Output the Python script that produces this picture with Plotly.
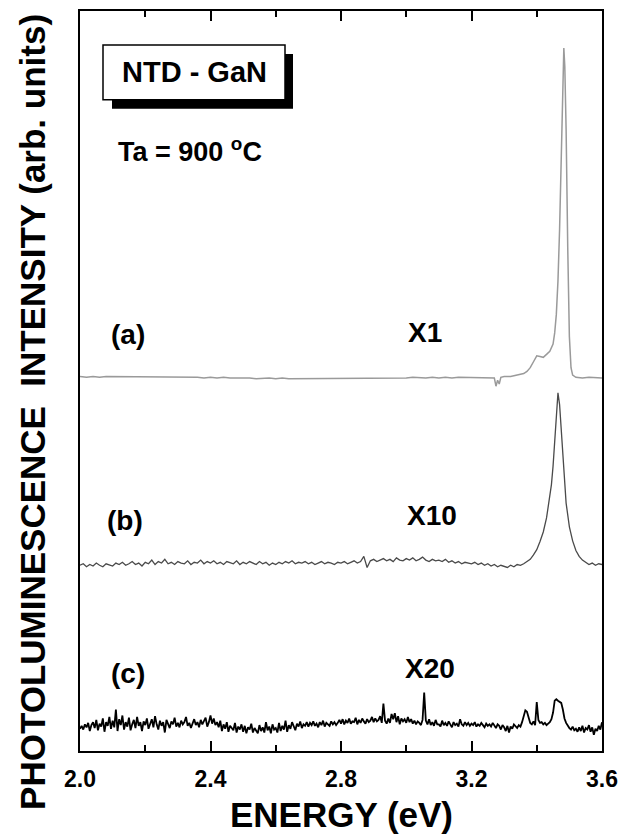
import plotly.graph_objects as go

# ---------------- data ----------------
# (c) X20 : regular grid 2.000 .. 3.600 eV, step 0.005
energy_c_start, energy_c_step = 2.0, 0.005
intensity_c = [
    3.0,3.4,2.9,3.6,3.2,3.8,2.7,3.5,3.9,3.1,4.2,2.8,3.7,3.3,4.4,2.6,3.9,3.4,4.6,3.0,
    4.1,3.2,5.6,2.7,4.3,3.5,4.8,2.9,3.9,3.3,4.5,2.8,3.6,4.2,3.1,4.6,3.4,3.9,2.7,4.0,
    3.5,4.4,3.0,3.8,4.3,3.2,4.7,3.6,2.9,4.1,3.4,3.9,2.5,4.2,3.7,3.1,4.0,3.6,4.5,3.3,
    3.8,3.2,4.1,3.6,3.9,4.6,3.4,3.8,3.1,3.7,4.3,3.5,3.9,3.2,4.2,3.6,4.0,4.5,3.3,3.9,
    4.8,3.7,4.4,3.5,3.9,3.2,4.1,2.7,3.6,3.0,3.9,2.6,3.4,3.1,2.8,3.8,2.5,3.3,2.9,3.6,
    2.6,3.4,2.4,3.2,2.9,3.7,2.5,3.1,2.8,2.4,3.5,2.7,3.2,2.5,3.9,2.8,3.3,2.4,3.6,2.9,
    3.1,2.5,3.8,2.7,3.4,2.9,4.1,2.6,3.5,3.0,3.9,3.2,2.8,3.7,3.3,4.0,3.1,3.6,3.4,3.9,
    3.3,3.8,3.5,4.0,3.4,3.7,3.2,3.9,3.5,4.1,3.3,3.8,3.6,3.4,4.0,3.6,3.9,3.5,3.8,4.2,
    3.7,4.3,3.6,4.1,3.8,4.4,3.7,4.0,3.9,4.5,3.6,4.2,3.8,4.4,4.0,3.7,4.3,3.9,4.1,4.6,
    3.9,4.4,4.0,4.2,4.7,3.8,6.4,4.1,3.7,4.4,3.8,5.0,4.3,5.1,3.9,4.7,3.6,4.4,4.0,4.3,
    3.8,4.6,3.9,4.3,3.7,4.1,3.6,4.0,3.8,3.5,4.2,7.9,4.1,3.6,4.3,3.5,3.9,3.4,4.2,3.6,
    3.6,3.3,4.1,3.5,3.8,3.4,4.0,3.6,3.2,3.9,3.5,3.7,3.3,4.3,3.6,3.4,3.9,3.5,3.8,3.4,
    3.7,3.5,3.9,3.3,3.6,3.4,3.8,3.5,3.2,3.7,3.4,3.6,3.3,3.8,3.5,3.1,3.6,3.4,2.9,3.5,
    3.2,2.7,3.4,2.5,3.3,3.0,3.6,3.4,3.1,3.5,3.3,3.9,4.8,5.5,5.3,4.4,3.8,3.6,4.0,3.5,
    6.6,4.2,3.8,3.9,3.6,3.8,3.5,3.7,3.9,4.3,5.2,6.8,7.0,6.8,6.6,6.5,5.6,4.4,3.8,3.4,
    3.1,2.9,3.3,2.8,3.0,2.6,3.2,2.7,3.4,2.5,3.1,2.9,3.5,2.6,3.2,2.2,3.0,2.7,3.4,2.9,
    3.9,
]
energy_c = [round(energy_c_start + energy_c_step * i, 3) for i in range(len(intensity_c))]

# (b) X10
energy_b = [round(2.0 + 0.01 * i, 2) for i in range(136)] + [
    3.36, 3.37, 3.38, 3.39, 3.40, 3.41, 3.42, 3.43, 3.44, 3.445, 3.45, 3.455, 3.46,
    3.465, 3.47, 3.475, 3.48, 3.485, 3.49, 3.50, 3.51, 3.52, 3.53, 3.54, 3.55, 3.56,
    3.57, 3.58, 3.59, 3.60]
intensity_b = [
    25.1,25.3,24.9,25.2,25.0,25.4,25.1,24.9,25.3,25.2,
    25.0,25.4,25.2,25.5,25.1,25.3,25.6,25.2,25.4,25.0,
    25.5,25.3,25.8,25.2,25.6,25.4,25.9,25.3,25.5,25.2,
    25.6,25.4,25.3,25.7,25.2,25.5,25.4,25.8,25.3,25.6,
    25.4,25.7,25.3,25.5,25.2,25.6,25.4,25.3,25.7,25.2,
    25.5,25.3,25.6,25.4,25.2,25.6,25.3,25.5,25.1,25.4,
    25.2,25.5,25.3,25.6,25.4,25.7,25.3,25.5,25.4,25.6,
    25.3,25.5,25.2,25.4,25.6,25.3,25.5,25.4,25.2,25.5,
    25.4,25.6,25.3,25.5,25.7,25.4,25.6,26.3,24.8,25.7,
    25.9,25.6,25.8,26.0,25.7,25.9,25.6,26.1,25.8,25.7,
    26.0,25.8,26.1,25.7,25.9,26.2,25.8,25.6,25.9,25.7,
    25.8,25.6,25.9,25.5,25.7,25.4,25.6,25.3,25.5,25.4,
    25.3,25.5,25.2,25.4,25.1,25.3,25.0,25.2,24.9,25.1,
    25.0,24.8,25.1,24.9,25.2,25.1,
    25.3,25.6,25.9,26.5,27.2,28.3,29.6,31.5,34.2,36.0,38.5,41.8,45.5,
    48.4,46.8,43.5,39.5,36.2,33.5,30.3,28.4,27.1,26.3,25.8,25.5,25.2,
    25.4,25.1,25.3,25.2,
]

# (a) X1
energy_a = [round(2.0 + 0.02 * i, 2) for i in range(64)] + [
    3.265, 3.27, 3.275, 3.28, 3.285, 3.29, 3.30, 3.32, 3.34, 3.36, 3.37, 3.38, 3.39,
    3.40, 3.41, 3.42, 3.43, 3.44, 3.45, 3.455, 3.46, 3.465, 3.47, 3.475, 3.48, 3.483,
    3.486, 3.49, 3.495, 3.50, 3.505, 3.51, 3.52, 3.54, 3.56, 3.58, 3.60]
intensity_a = [
    50.6,50.5,50.6,50.5,50.6,50.6,50.5,50.6,50.5,50.6,
    50.5,50.6,50.5,50.6,50.5,50.5,50.6,50.5,50.5,50.4,
    50.5,50.4,50.5,50.4,50.4,50.5,50.4,50.3,50.4,50.4,
    50.3,50.4,50.3,50.3,50.4,50.3,50.4,50.3,50.4,50.3,
    50.4,50.3,50.4,50.4,50.3,50.4,50.4,50.3,50.4,50.4,
    50.4,50.5,50.4,50.4,50.5,50.4,50.5,50.4,50.5,50.5,
    50.4,50.5,50.4,50.5,
    50.5,50.4,49.3,50.1,49.6,50.5,50.6,50.6,50.8,51.0,51.3,51.8,52.6,
    53.4,53.3,53.2,53.6,54.0,55.0,56.5,59.0,63.5,70.5,80.5,91.5,95.0,
    92.5,84.0,68.0,56.0,51.8,50.8,50.5,50.4,50.5,50.4,50.4,
]

x_tick_vals = [2.0, 2.4, 2.8, 3.2, 3.6]
x_tick_text = ["2.0", "2.4", "2.8", "3.2", "3.6"]
x_minor_vals = [2.2, 2.6, 3.0, 3.4]

FONT = "Liberation Sans, Arial, sans-serif"

fig = go.Figure()
fig.add_trace(go.Scatter(x=energy_a, y=intensity_a, mode="lines",
                         line=dict(color="#9a9a9a", width=1.5), showlegend=False))
fig.add_trace(go.Scatter(x=energy_b, y=intensity_b, mode="lines",
                         line=dict(color="#4a4a4a", width=1.3), showlegend=False))
fig.add_trace(go.Scatter(x=energy_c, y=intensity_c, mode="lines",
                         line=dict(color="#000000", width=1.8), showlegend=False))

# the page draws the figure 8 px in from the window's corner
OFF = 8
W, H = 620, 831
L, R, T, B = 72, 26, 1, 88
pw, ph = W - L - R, H - T - B

def px(xr):
    return (xr - OFF - L) / pw

def py(yr):
    return (H - B - (yr - OFF)) / ph

shapes = [
    dict(type="rect", xref="paper", yref="paper", x0=px(112), x1=px(293), y0=py(107), y1=py(52),
         fillcolor="black", line=dict(width=0), layer="above"),
    dict(type="rect", xref="paper", yref="paper", x0=px(103), x1=px(285), y0=py(98), y1=py(43),
         fillcolor="white", line=dict(color="black", width=1.5), layer="above"),
]

ann_font = dict(family=FONT, size=28, color="black", weight="bold")

def label(text, xr, yr, **kw):
    d = dict(text=text, x=px(xr), y=py(yr), xref="paper", yref="paper", showarrow=False,
             font=ann_font, xanchor="center", yanchor="middle")
    d.update(kw)
    return d

annotations = [
    label("NTD - GaN", 194, 70, font=dict(family=FONT, size=29, color="black", weight="bold")),
    label("Ta = 900 <sup>o</sup>C", 116, 148, xanchor="left",
          font=dict(family=FONT, size=27, color="black", weight="bold")),
    label("(a)", 128, 333),
    label("X1", 425, 331),
    label("(b)", 125, 520),
    label("X10", 432, 515),
    label("(c)", 128, 673),
    label("X20", 430, 668),
    label("PHOTOLUMINESCENCE  INTENSITY (arb. units)", 33, 411, textangle=-90,
          font=dict(family=FONT, size=35, color="black", weight="bold")),
    label("ENERGY (eV)", 341, 815,
          font=dict(family=FONT, size=35, color="black", weight="bold")),
]

fig.update_layout(
    width=W, height=H,
    margin=dict(l=L, r=R, t=T, b=B),
    paper_bgcolor="white", plot_bgcolor="white",
    shapes=shapes, annotations=annotations,
    xaxis=dict(range=[2.0, 3.6], tickvals=x_tick_vals, ticktext=x_tick_text,
               ticks="inside", ticklen=10, tickwidth=2, tickcolor="black",
               minor=dict(tickvals=x_minor_vals, ticks="inside", ticklen=6,
                          tickwidth=1.5, tickcolor="black"),
               showline=True, linecolor="black", linewidth=2, mirror="ticks",
               showgrid=False, zeroline=False, ticklabelstandoff=6,
               tickfont=dict(family=FONT, size=23, color="black", weight="bold")),
    yaxis=dict(range=[0, 100], showticklabels=False, ticks="",
               showline=True, linecolor="black", linewidth=2, mirror=True,
               showgrid=False, zeroline=False),
)

fig.write_html("out.html")
